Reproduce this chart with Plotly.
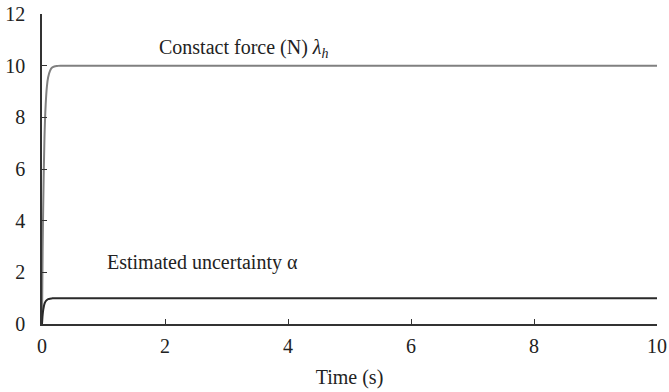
import plotly.graph_objects as go

t = [0, 0.01, 0.02, 0.04, 0.06, 0.08, 0.1, 0.13, 0.16, 0.2, 0.25, 0.3, 10]
force = [0, 2.8, 4.6, 7.2, 8.5, 9.2, 9.55, 9.8, 9.92, 9.97, 9.99, 10, 10]
uncert = [0, 0.35, 0.55, 0.78, 0.88, 0.93, 0.96, 0.98, 0.99, 1.0, 1.0, 1.0, 1.0]
xticks = [0, 2, 4, 6, 8, 10]
yticks = [0, 2, 4, 6, 8, 10, 12]

fig = go.Figure()
fig.add_trace(go.Scatter(x=t, y=force, mode="lines", line=dict(color="#808080", width=2), line_shape="spline"))
fig.add_trace(go.Scatter(x=t, y=uncert, mode="lines", line=dict(color="#2a2a2a", width=2), line_shape="spline"))

font = dict(family="Times New Roman, Liberation Serif, serif", size=20, color="#222")
fig.update_layout(
    width=669, height=392,
    margin=dict(l=42, r=12, t=14, b=68, autoexpand=False),
    plot_bgcolor="white", paper_bgcolor="white",
    showlegend=False,
    font=font,
    xaxis=dict(range=[0, 10], tickvals=xticks, ticks="inside", ticklen=5, tickcolor="#333",
               showline=True, linecolor="#333", linewidth=1.5, showgrid=False, zeroline=False,
               automargin=False, ticklabelstandoff=3, tickfont=font,
               title=dict(text="Time (s)", font=font, standoff=14)),
    yaxis=dict(range=[0, 12], tickvals=yticks, ticks="inside", ticklen=5, tickcolor="#333",
               showline=True, linecolor="#333", linewidth=1.5, showgrid=False, zeroline=False,
               automargin=False, ticklabelstandoff=11, tickfont=font),
    annotations=[
        dict(x=1.87, y=10.68, xref="x", yref="y", text="Constact force (N) <i>λ</i><sub><i>h</i></sub>",
             showarrow=False, xanchor="left", yanchor="middle", font=font),
        dict(x=1.02, y=2.4, xref="x", yref="y", text="Estimated uncertainty α",
             showarrow=False, xanchor="left", yanchor="middle", font=font),
    ],
)
fig.write_html("out.html", config={"displayModeBar": False},
               post_script="document.body.style.margin='0';")
